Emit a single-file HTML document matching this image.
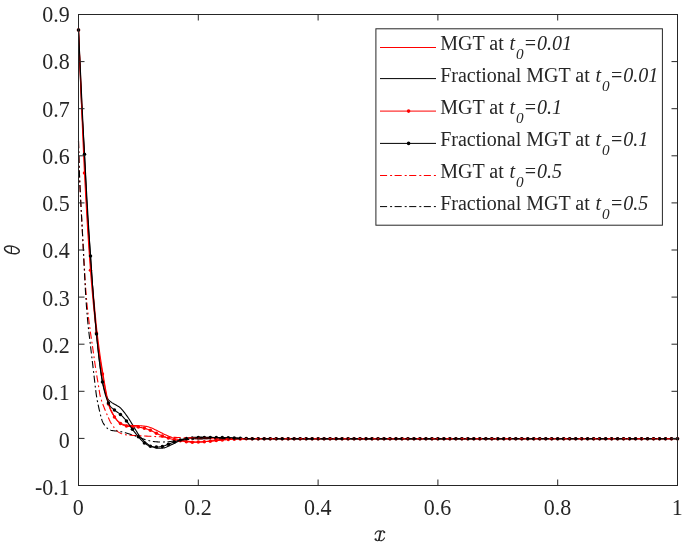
<!DOCTYPE html>
<html><head><meta charset="utf-8"><style>html,body{margin:0;padding:0;background:#fff;overflow:hidden}svg{display:block;will-change:transform}</style></head>
<body><svg width="685" height="545" viewBox="0 0 685 545">
<rect width="100%" height="100%" fill="#fff"/>
<g fill="none" stroke-width="1.1" stroke-linejoin="round">
<path d="M78.50 30.00 L79.02 41.78 L79.54 53.70 L80.07 65.62 L80.59 77.41 L81.10 88.91 L81.60 100.00 L82.08 110.58 L82.54 120.74 L82.99 130.62 L83.45 140.37 L83.91 150.12 L84.40 160.00 L84.91 170.17 L85.44 180.56 L85.99 190.94 L86.53 201.11 L87.07 210.87 L87.60 220.00 L88.11 228.48 L88.60 236.48 L89.09 244.06 L89.59 251.30 L90.08 258.25 L90.60 265.00 L91.14 271.47 L91.69 277.59 L92.26 283.44 L92.82 289.07 L93.37 294.57 L93.90 300.00 L94.40 305.35 L94.89 310.56 L95.36 315.62 L95.83 320.56 L96.30 325.35 L96.80 330.00 L97.32 334.56 L97.87 339.04 L98.42 343.38 L98.97 347.52 L99.50 351.41 L100.00 355.00 L100.46 358.23 L100.90 361.15 L101.33 363.81 L101.73 366.30 L102.12 368.67 L102.50 371.00 L102.86 373.24 L103.20 375.33 L103.53 377.31 L103.85 379.22 L104.17 381.10 L104.50 383.00 L104.83 384.89 L105.15 386.74 L105.47 388.56 L105.80 390.37 L106.14 392.18 L106.50 394.00 L106.88 395.88 L107.28 397.81 L107.69 399.75 L108.11 401.63 L108.55 403.40 L109.00 405.00 L109.47 406.41 L109.94 407.67 L110.44 408.81 L110.94 409.89 L111.47 410.94 L112.00 412.00 L112.55 413.08 L113.13 414.15 L113.72 415.19 L114.31 416.19 L114.91 417.13 L115.50 418.00 L116.07 418.80 L116.61 419.53 L117.16 420.21 L117.72 420.84 L118.33 421.44 L119.00 422.00 L119.73 422.54 L120.52 423.04 L121.34 423.50 L122.20 423.92 L123.09 424.29 L124.00 424.60 L124.93 424.84 L125.89 425.02 L126.88 425.15 L127.89 425.24 L128.93 425.32 L130.00 425.40 L131.11 425.46 L132.26 425.50 L133.44 425.52 L134.63 425.53 L135.82 425.56 L137.00 425.60 L138.18 425.66 L139.37 425.71 L140.56 425.78 L141.74 425.86 L142.89 425.97 L144.00 426.10 L145.05 426.25 L146.04 426.40 L147.00 426.58 L147.96 426.80 L148.95 427.06 L150.00 427.40 L151.10 427.82 L152.24 428.30 L153.40 428.84 L154.59 429.42 L155.79 430.01 L157.00 430.60 L158.21 431.20 L159.42 431.82 L160.65 432.46 L161.91 433.11 L163.22 433.76 L164.60 434.40 L166.08 435.05 L167.65 435.73 L169.27 436.40 L170.90 437.05 L172.49 437.66 L174.00 438.20 L175.41 438.67 L176.77 439.09 L178.09 439.47 L179.39 439.81 L180.68 440.12 L182.00 440.40 L183.33 440.65 L184.67 440.87 L186.00 441.06 L187.33 441.22 L188.67 441.36 L190.00 441.50 L191.33 441.63 L192.67 441.75 L194.00 441.85 L195.33 441.93 L196.67 441.98 L198.00 442.00 L199.32 441.98 L200.63 441.92 L201.94 441.84 L203.26 441.73 L204.61 441.62 L206.00 441.50 L207.43 441.37 L208.89 441.23 L210.38 441.08 L211.89 440.92 L213.43 440.76 L215.00 440.60 L216.61 440.43 L218.26 440.26 L219.94 440.08 L221.63 439.91 L223.32 439.74 L225.00 439.60 L226.61 439.47 L228.15 439.36 L229.69 439.25 L231.30 439.16 L233.04 439.07 L235.00 439.00 L232.44 438.94 L224.35 438.90 L216.41 438.86 L214.26 438.84 L223.57 438.82 L250.00 438.80 L297.38 438.79 L361.94 438.79 L437.97 438.79 L519.72 438.79 L601.48 438.80 L677.50 438.80" stroke="#ff0000"/>
<path d="M78.50 30.00 L78.96 41.85 L79.42 53.91 L79.88 65.98 L80.34 77.83 L80.81 89.24 L81.30 100.00 L81.82 109.94 L82.36 119.21 L82.91 128.04 L83.46 136.68 L83.99 145.35 L84.50 154.30 L84.97 163.62 L85.41 173.13 L85.84 182.68 L86.27 192.11 L86.72 201.27 L87.20 210.00 L87.72 218.24 L88.26 226.09 L88.83 233.68 L89.39 241.10 L89.95 248.47 L90.50 255.90 L91.03 263.47 L91.56 271.10 L92.07 278.69 L92.59 286.11 L93.10 293.25 L93.60 300.00 L94.09 306.33 L94.58 312.34 L95.06 318.06 L95.53 323.56 L96.01 328.89 L96.50 334.10 L96.99 339.20 L97.49 344.16 L97.99 348.94 L98.50 353.52 L99.00 357.88 L99.50 362.00 L99.99 365.86 L100.48 369.48 L100.97 372.87 L101.46 376.07 L101.97 379.07 L102.50 381.90 L103.07 384.58 L103.67 387.09 L104.29 389.41 L104.90 391.52 L105.48 393.39 L106.00 395.00 L106.44 396.26 L106.81 397.19 L107.14 397.87 L107.48 398.42 L107.86 398.93 L108.30 399.50 L108.82 400.10 L109.38 400.66 L109.98 401.18 L110.61 401.66 L111.25 402.13 L111.90 402.60 L112.57 403.05 L113.28 403.49 L114.00 403.91 L114.72 404.31 L115.43 404.71 L116.10 405.10 L116.74 405.48 L117.37 405.83 L117.99 406.18 L118.58 406.53 L119.15 406.90 L119.70 407.30 L120.20 407.72 L120.66 408.15 L121.10 408.60 L121.54 409.08 L122.00 409.61 L122.50 410.20 L123.06 410.87 L123.65 411.60 L124.27 412.38 L124.89 413.19 L125.51 414.00 L126.10 414.80 L126.67 415.58 L127.23 416.37 L127.77 417.16 L128.32 417.96 L128.86 418.77 L129.40 419.60 L129.94 420.45 L130.47 421.33 L131.01 422.22 L131.54 423.11 L132.07 424.01 L132.60 424.90 L133.13 425.79 L133.67 426.68 L134.20 427.57 L134.73 428.46 L135.27 429.33 L135.80 430.20 L136.33 431.06 L136.86 431.91 L137.38 432.76 L137.91 433.60 L138.45 434.41 L139.00 435.20 L139.57 435.97 L140.14 436.72 L140.73 437.46 L141.32 438.17 L141.91 438.85 L142.50 439.50 L143.08 440.11 L143.65 440.69 L144.22 441.24 L144.80 441.77 L145.39 442.29 L146.00 442.80 L146.63 443.30 L147.26 443.80 L147.91 444.28 L148.57 444.74 L149.27 445.19 L150.00 445.60 L150.78 445.99 L151.59 446.37 L152.44 446.73 L153.30 447.06 L154.16 447.35 L155.00 447.60 L155.83 447.81 L156.67 447.98 L157.50 448.12 L158.33 448.22 L159.17 448.28 L160.00 448.30 L160.81 448.29 L161.59 448.26 L162.38 448.19 L163.19 448.06 L164.05 447.87 L165.00 447.60 L166.04 447.23 L167.15 446.77 L168.31 446.25 L169.52 445.68 L170.75 445.09 L172.00 444.50 L173.28 443.88 L174.59 443.20 L175.94 442.51 L177.30 441.82 L178.66 441.17 L180.00 440.60 L181.33 440.10 L182.67 439.63 L184.00 439.21 L185.33 438.83 L186.67 438.50 L188.00 438.20 L189.32 437.95 L190.63 437.76 L191.94 437.61 L193.26 437.49 L194.61 437.39 L196.00 437.30 L197.37 437.23 L198.70 437.19 L200.06 437.17 L201.52 437.17 L203.14 437.18 L205.00 437.20 L207.09 437.24 L209.37 437.29 L211.81 437.36 L214.41 437.43 L217.14 437.52 L220.00 437.60 L223.04 437.69 L226.30 437.79 L229.69 437.89 L233.15 437.99 L236.61 438.10 L240.00 438.20 L238.73 438.31 L231.94 438.42 L225.16 438.54 L223.89 438.64 L233.66 438.73 L260.00 438.80 L306.58 438.83 L369.72 438.84 L443.91 438.84 L523.61 438.82 L603.32 438.81 L677.50 438.80" stroke="#000000"/>
<path d="M78.50 30.00 L79.50 54.36 L80.50 79.36 L81.50 104.36 L82.49 128.73 L83.49 151.82 L84.49 173.00 L85.49 192.25 L86.49 210.07 L87.48 226.61 L88.48 242.04 L89.48 256.52 L90.48 270.20 L91.48 282.91 L92.48 294.49 L93.47 305.11 L94.47 314.96 L95.47 324.19 L96.47 333.00 L97.47 341.22 L98.47 348.69 L99.47 355.55 L100.46 361.96 L101.46 368.06 L102.46 374.00 L103.46 379.83 L104.46 385.45 L105.46 390.76 L106.45 395.67 L107.45 400.12 L108.45 404.00 L109.45 407.21 L110.45 409.80 L111.44 411.91 L112.44 413.69 L113.44 415.31 L114.44 416.90 L115.44 418.43 L116.44 419.75 L117.44 420.91 L118.43 421.91 L119.43 422.80 L120.43 423.60 L121.43 424.27 L122.43 424.79 L123.42 425.18 L124.42 425.49 L125.42 425.75 L126.42 426.00 L127.42 426.21 L128.42 426.34 L129.41 426.42 L130.41 426.47 L131.41 426.53 L132.41 426.60 L133.41 426.68 L134.41 426.75 L135.41 426.81 L136.40 426.89 L137.40 426.98 L138.40 427.10 L139.40 427.25 L140.40 427.42 L141.40 427.61 L142.39 427.81 L143.39 428.05 L144.39 428.30 L145.39 428.58 L146.39 428.87 L147.38 429.19 L148.38 429.54 L149.38 429.91 L150.38 430.30 L151.38 430.73 L152.38 431.20 L153.38 431.70 L154.37 432.21 L155.37 432.71 L156.37 433.20 L157.37 433.68 L158.37 434.17 L159.37 434.65 L160.36 435.12 L161.36 435.57 L162.36 436.00 L163.36 436.40 L164.36 436.77 L165.36 437.13 L166.35 437.46 L167.35 437.79 L168.35 438.10 L169.35 438.40 L170.35 438.69 L171.34 438.96 L172.34 439.22 L173.34 439.47 L174.34 439.70 L175.34 439.91 L176.34 440.11 L177.34 440.29 L178.33 440.47 L179.33 440.63 L180.33 440.80 L181.33 440.97 L182.33 441.13 L183.33 441.29 L184.32 441.44 L185.32 441.58 L186.32 441.70 L187.32 441.81 L188.32 441.92 L189.32 442.01 L190.31 442.09 L191.31 442.16 L192.31 442.20 L193.31 442.22 L194.31 442.22 L195.31 442.21 L196.30 442.18 L197.30 442.14 L198.30 442.10 L199.30 442.05 L200.30 441.99 L201.30 441.93 L202.29 441.85 L203.29 441.78 L204.29 441.70 L205.29 441.62 L206.29 441.54 L207.28 441.46 L208.28 441.38 L209.28 441.29 L210.28 441.20 L211.28 441.11 L212.28 441.01 L213.27 440.91 L214.27 440.80 L215.27 440.70 L216.27 440.60 L217.27 440.50 L218.27 440.40 L219.26 440.29 L220.26 440.19 L221.26 440.09 L222.26 440.00 L223.26 439.91 L224.26 439.82 L225.25 439.73 L226.25 439.65 L227.25 439.57 L228.25 439.50 L229.25 439.44 L230.25 439.38 L231.25 439.33 L232.24 439.29 L233.24 439.24 L234.24 439.20 L235.24 439.15 L236.24 439.11 L237.24 439.06 L238.23 439.02 L239.23 438.98 L240.23 438.95 L241.23 438.92 L242.23 438.90 L243.23 438.89 L244.22 438.87 L245.22 438.86 L246.22 438.85 L247.22 438.84 L248.22 438.83 L249.22 438.82 L250.21 438.81 L251.21 438.81 L252.21 438.80" stroke="#ff0000"/>
</g>
<g fill="#ff0000"><circle cx="78.50" cy="30.00" r="1.75"/><circle cx="84.49" cy="173.00" r="1.75"/><circle cx="90.48" cy="270.20" r="1.75"/><circle cx="96.47" cy="333.00" r="1.75"/><circle cx="102.46" cy="374.00" r="1.75"/><circle cx="108.45" cy="404.00" r="1.75"/><circle cx="114.44" cy="416.90" r="1.75"/><circle cx="120.43" cy="423.60" r="1.75"/><circle cx="126.42" cy="426.00" r="1.75"/><circle cx="132.41" cy="426.60" r="1.75"/><circle cx="138.40" cy="427.10" r="1.75"/><circle cx="144.39" cy="428.30" r="1.75"/><circle cx="150.38" cy="430.30" r="1.75"/><circle cx="156.37" cy="433.20" r="1.75"/><circle cx="162.36" cy="436.00" r="1.75"/><circle cx="168.35" cy="438.10" r="1.75"/><circle cx="174.34" cy="439.70" r="1.75"/><circle cx="180.33" cy="440.80" r="1.75"/><circle cx="186.32" cy="441.70" r="1.75"/><circle cx="192.31" cy="442.20" r="1.75"/><circle cx="198.30" cy="442.10" r="1.75"/><circle cx="204.29" cy="441.70" r="1.75"/><circle cx="210.28" cy="441.20" r="1.75"/><circle cx="216.27" cy="440.60" r="1.75"/><circle cx="222.26" cy="440.00" r="1.75"/><circle cx="228.25" cy="439.50" r="1.75"/><circle cx="234.24" cy="439.20" r="1.75"/><circle cx="240.23" cy="438.95" r="1.75"/><circle cx="246.22" cy="438.85" r="1.75"/><circle cx="252.21" cy="438.80" r="1.75"/><circle cx="258.20" cy="438.80" r="1.75"/><circle cx="264.19" cy="438.80" r="1.75"/><circle cx="270.18" cy="438.80" r="1.75"/><circle cx="276.17" cy="438.80" r="1.75"/><circle cx="282.16" cy="438.80" r="1.75"/><circle cx="288.15" cy="438.80" r="1.75"/><circle cx="294.14" cy="438.80" r="1.75"/><circle cx="300.13" cy="438.80" r="1.75"/><circle cx="306.12" cy="438.80" r="1.75"/><circle cx="312.11" cy="438.80" r="1.75"/><circle cx="318.10" cy="438.80" r="1.75"/><circle cx="324.09" cy="438.80" r="1.75"/><circle cx="330.08" cy="438.80" r="1.75"/><circle cx="336.07" cy="438.80" r="1.75"/><circle cx="342.06" cy="438.80" r="1.75"/><circle cx="348.05" cy="438.80" r="1.75"/><circle cx="354.04" cy="438.80" r="1.75"/><circle cx="360.03" cy="438.80" r="1.75"/><circle cx="366.02" cy="438.80" r="1.75"/><circle cx="372.01" cy="438.80" r="1.75"/><circle cx="378.00" cy="438.80" r="1.75"/><circle cx="383.99" cy="438.80" r="1.75"/><circle cx="389.98" cy="438.80" r="1.75"/><circle cx="395.97" cy="438.80" r="1.75"/><circle cx="401.96" cy="438.80" r="1.75"/><circle cx="407.95" cy="438.80" r="1.75"/><circle cx="413.94" cy="438.80" r="1.75"/><circle cx="419.93" cy="438.80" r="1.75"/><circle cx="425.92" cy="438.80" r="1.75"/><circle cx="431.91" cy="438.80" r="1.75"/><circle cx="437.90" cy="438.80" r="1.75"/><circle cx="443.89" cy="438.80" r="1.75"/><circle cx="449.88" cy="438.80" r="1.75"/><circle cx="455.87" cy="438.80" r="1.75"/><circle cx="461.86" cy="438.80" r="1.75"/><circle cx="467.85" cy="438.80" r="1.75"/><circle cx="473.84" cy="438.80" r="1.75"/><circle cx="479.83" cy="438.80" r="1.75"/><circle cx="485.82" cy="438.80" r="1.75"/><circle cx="491.81" cy="438.80" r="1.75"/><circle cx="497.80" cy="438.80" r="1.75"/><circle cx="503.79" cy="438.80" r="1.75"/><circle cx="509.78" cy="438.80" r="1.75"/><circle cx="515.77" cy="438.80" r="1.75"/><circle cx="521.76" cy="438.80" r="1.75"/><circle cx="527.75" cy="438.80" r="1.75"/><circle cx="533.74" cy="438.80" r="1.75"/><circle cx="539.73" cy="438.80" r="1.75"/><circle cx="545.72" cy="438.80" r="1.75"/><circle cx="551.71" cy="438.80" r="1.75"/><circle cx="557.70" cy="438.80" r="1.75"/><circle cx="563.69" cy="438.80" r="1.75"/><circle cx="569.68" cy="438.80" r="1.75"/><circle cx="575.67" cy="438.80" r="1.75"/><circle cx="581.66" cy="438.80" r="1.75"/><circle cx="587.65" cy="438.80" r="1.75"/><circle cx="593.64" cy="438.80" r="1.75"/><circle cx="599.63" cy="438.80" r="1.75"/><circle cx="605.62" cy="438.80" r="1.75"/><circle cx="611.61" cy="438.80" r="1.75"/><circle cx="617.60" cy="438.80" r="1.75"/><circle cx="623.59" cy="438.80" r="1.75"/><circle cx="629.58" cy="438.80" r="1.75"/><circle cx="635.57" cy="438.80" r="1.75"/><circle cx="641.56" cy="438.80" r="1.75"/><circle cx="647.55" cy="438.80" r="1.75"/><circle cx="653.54" cy="438.80" r="1.75"/><circle cx="659.53" cy="438.80" r="1.75"/><circle cx="665.52" cy="438.80" r="1.75"/><circle cx="671.51" cy="438.80" r="1.75"/><circle cx="677.50" cy="438.80" r="1.75"/></g>
<path d="M78.50 30.00 L79.50 50.98 L80.50 72.27 L81.50 93.57 L82.49 114.55 L83.49 134.90 L84.49 154.30 L85.49 172.82 L86.49 190.71 L87.48 207.98 L88.48 224.61 L89.48 240.58 L90.48 255.90 L91.48 270.64 L92.48 284.83 L93.47 298.36 L94.47 311.15 L95.47 323.10 L96.47 334.10 L97.47 344.13 L98.47 353.27 L99.47 361.56 L100.46 369.06 L101.46 375.82 L102.46 381.90 L103.46 387.14 L104.46 391.47 L105.46 395.06 L106.45 398.08 L107.45 400.70 L108.45 403.10 L109.45 405.11 L110.45 406.55 L111.44 407.60 L112.44 408.41 L113.44 409.16 L114.44 410.00 L115.44 410.85 L116.44 411.57 L117.44 412.23 L118.43 412.87 L119.43 413.57 L120.43 414.40 L121.43 415.34 L122.43 416.34 L123.42 417.40 L124.42 418.51 L125.42 419.68 L126.42 420.90 L127.42 422.20 L128.42 423.59 L129.41 425.04 L130.41 426.50 L131.41 427.93 L132.41 429.30 L133.41 430.62 L134.41 431.92 L135.41 433.19 L136.40 434.44 L137.40 435.64 L138.40 436.80 L139.40 437.93 L140.40 439.04 L141.40 440.11 L142.39 441.12 L143.39 442.06 L144.39 442.90 L145.39 443.65 L146.39 444.33 L147.38 444.94 L148.38 445.47 L149.38 445.92 L150.38 446.30 L151.38 446.59 L152.38 446.78 L153.38 446.90 L154.37 446.96 L155.37 446.99 L156.37 447.00 L157.37 446.99 L158.37 446.95 L159.37 446.87 L160.36 446.76 L161.36 446.60 L162.36 446.40 L163.36 446.14 L164.36 445.82 L165.36 445.46 L166.35 445.08 L167.35 444.68 L168.35 444.30 L169.35 443.91 L170.35 443.50 L171.34 443.09 L172.34 442.67 L173.34 442.27 L174.34 441.90 L175.34 441.55 L176.34 441.22 L177.34 440.90 L178.33 440.59 L179.33 440.29 L180.33 440.00 L181.33 439.70 L182.33 439.40 L183.33 439.11 L184.32 438.84 L185.32 438.60 L186.32 438.40 L187.32 438.25 L188.32 438.14 L189.32 438.07 L190.31 438.01 L191.31 437.96 L192.31 437.90 L193.31 437.84 L194.31 437.78 L195.31 437.73 L196.30 437.68 L197.30 437.64 L198.30 437.60 L199.30 437.57 L200.30 437.55 L201.30 437.53 L202.29 437.52 L203.29 437.51 L204.29 437.50 L205.29 437.49 L206.29 437.49 L207.28 437.49 L208.28 437.50 L209.28 437.50 L210.28 437.50 L211.28 437.50 L212.28 437.50 L213.27 437.49 L214.27 437.49 L215.27 437.49 L216.27 437.50 L217.27 437.51 L218.27 437.52 L219.26 437.54 L220.26 437.56 L221.26 437.58 L222.26 437.60 L223.26 437.63 L224.26 437.66 L225.25 437.69 L226.25 437.73 L227.25 437.77 L228.25 437.80 L229.25 437.83 L230.25 437.86 L231.25 437.89 L232.24 437.93 L233.24 437.96 L234.24 438.00 L235.24 438.04 L236.24 438.09 L237.24 438.14 L238.23 438.20 L239.23 438.25 L240.23 438.30 L241.23 438.35 L242.23 438.40 L243.23 438.46 L244.22 438.51 L245.22 438.56 L246.22 438.60 L247.22 438.64 L248.22 438.67 L249.22 438.71 L250.21 438.74 L251.21 438.77 L252.21 438.80 L677.5 438.80" stroke="#000000" fill="none" stroke-width="1.1"/>
<g fill="#000000"><circle cx="78.50" cy="30.00" r="1.75"/><circle cx="84.49" cy="154.30" r="1.75"/><circle cx="90.48" cy="255.90" r="1.75"/><circle cx="96.47" cy="334.10" r="1.75"/><circle cx="102.46" cy="381.90" r="1.75"/><circle cx="108.45" cy="403.10" r="1.75"/><circle cx="114.44" cy="410.00" r="1.75"/><circle cx="120.43" cy="414.40" r="1.75"/><circle cx="126.42" cy="420.90" r="1.75"/><circle cx="132.41" cy="429.30" r="1.75"/><circle cx="138.40" cy="436.80" r="1.75"/><circle cx="144.39" cy="442.90" r="1.75"/><circle cx="150.38" cy="446.30" r="1.75"/><circle cx="156.37" cy="447.00" r="1.75"/><circle cx="162.36" cy="446.40" r="1.75"/><circle cx="168.35" cy="444.30" r="1.75"/><circle cx="174.34" cy="441.90" r="1.75"/><circle cx="180.33" cy="440.00" r="1.75"/><circle cx="186.32" cy="438.40" r="1.75"/><circle cx="192.31" cy="437.90" r="1.75"/><circle cx="198.30" cy="437.60" r="1.75"/><circle cx="204.29" cy="437.50" r="1.75"/><circle cx="210.28" cy="437.50" r="1.75"/><circle cx="216.27" cy="437.50" r="1.75"/><circle cx="222.26" cy="437.60" r="1.75"/><circle cx="228.25" cy="437.80" r="1.75"/><circle cx="234.24" cy="438.00" r="1.75"/><circle cx="240.23" cy="438.30" r="1.75"/><circle cx="246.22" cy="438.60" r="1.75"/><circle cx="252.21" cy="438.80" r="1.75"/><circle cx="258.20" cy="438.80" r="1.75"/><circle cx="264.19" cy="438.80" r="1.75"/><circle cx="270.18" cy="438.80" r="1.75"/><circle cx="276.17" cy="438.80" r="1.75"/><circle cx="282.16" cy="438.80" r="1.75"/><circle cx="288.15" cy="438.80" r="1.75"/><circle cx="294.14" cy="438.80" r="1.75"/><circle cx="300.13" cy="438.80" r="1.75"/><circle cx="306.12" cy="438.80" r="1.75"/><circle cx="312.11" cy="438.80" r="1.75"/><circle cx="318.10" cy="438.80" r="1.75"/><circle cx="324.09" cy="438.80" r="1.75"/><circle cx="330.08" cy="438.80" r="1.75"/><circle cx="336.07" cy="438.80" r="1.75"/><circle cx="342.06" cy="438.80" r="1.75"/><circle cx="348.05" cy="438.80" r="1.75"/><circle cx="354.04" cy="438.80" r="1.75"/><circle cx="360.03" cy="438.80" r="1.75"/><circle cx="366.02" cy="438.80" r="1.75"/><circle cx="372.01" cy="438.80" r="1.75"/><circle cx="378.00" cy="438.80" r="1.75"/><circle cx="383.99" cy="438.80" r="1.75"/><circle cx="389.98" cy="438.80" r="1.75"/><circle cx="395.97" cy="438.80" r="1.75"/><circle cx="401.96" cy="438.80" r="1.75"/><circle cx="407.95" cy="438.80" r="1.75"/><circle cx="413.94" cy="438.80" r="1.75"/><circle cx="419.93" cy="438.80" r="1.75"/><circle cx="425.92" cy="438.80" r="1.75"/><circle cx="431.91" cy="438.80" r="1.75"/><circle cx="437.90" cy="438.80" r="1.75"/><circle cx="443.89" cy="438.80" r="1.75"/><circle cx="449.88" cy="438.80" r="1.75"/><circle cx="455.87" cy="438.80" r="1.75"/><circle cx="461.86" cy="438.80" r="1.75"/><circle cx="467.85" cy="438.80" r="1.75"/><circle cx="473.84" cy="438.80" r="1.75"/><circle cx="479.83" cy="438.80" r="1.75"/><circle cx="485.82" cy="438.80" r="1.75"/><circle cx="491.81" cy="438.80" r="1.75"/><circle cx="497.80" cy="438.80" r="1.75"/><circle cx="503.79" cy="438.80" r="1.75"/><circle cx="509.78" cy="438.80" r="1.75"/><circle cx="515.77" cy="438.80" r="1.75"/><circle cx="521.76" cy="438.80" r="1.75"/><circle cx="527.75" cy="438.80" r="1.75"/><circle cx="533.74" cy="438.80" r="1.75"/><circle cx="539.73" cy="438.80" r="1.75"/><circle cx="545.72" cy="438.80" r="1.75"/><circle cx="551.71" cy="438.80" r="1.75"/><circle cx="557.70" cy="438.80" r="1.75"/><circle cx="563.69" cy="438.80" r="1.75"/><circle cx="569.68" cy="438.80" r="1.75"/><circle cx="575.67" cy="438.80" r="1.75"/><circle cx="581.66" cy="438.80" r="1.75"/><circle cx="587.65" cy="438.80" r="1.75"/><circle cx="593.64" cy="438.80" r="1.75"/><circle cx="599.63" cy="438.80" r="1.75"/><circle cx="605.62" cy="438.80" r="1.75"/><circle cx="611.61" cy="438.80" r="1.75"/><circle cx="617.60" cy="438.80" r="1.75"/><circle cx="623.59" cy="438.80" r="1.75"/><circle cx="629.58" cy="438.80" r="1.75"/><circle cx="635.57" cy="438.80" r="1.75"/><circle cx="641.56" cy="438.80" r="1.75"/><circle cx="647.55" cy="438.80" r="1.75"/><circle cx="653.54" cy="438.80" r="1.75"/><circle cx="659.53" cy="438.80" r="1.75"/><circle cx="665.52" cy="438.80" r="1.75"/><circle cx="671.51" cy="438.80" r="1.75"/><circle cx="677.50" cy="438.80" r="1.75"/></g>
<path d="M78.50 141.00 L78.63 145.88 L78.76 150.81 L78.88 155.75 L79.01 160.63 L79.15 165.40 L79.30 170.00 L79.46 174.28 L79.61 178.26 L79.78 182.12 L79.96 186.07 L80.17 190.30 L80.40 195.00 L80.65 199.97 L80.91 205.00 L81.20 210.31 L81.52 216.11 L81.88 222.60 L82.30 230.00 L82.80 238.90 L83.37 249.26 L83.98 260.31 L84.61 271.30 L85.23 281.45 L85.80 290.00 L86.32 296.79 L86.82 302.41 L87.30 307.19 L87.78 311.48 L88.28 315.64 L88.80 320.00 L89.35 324.46 L89.93 328.70 L90.51 332.81 L91.11 336.85 L91.71 340.89 L92.30 345.00 L92.91 349.29 L93.54 353.74 L94.17 358.19 L94.79 362.48 L95.37 366.47 L95.90 370.00 L96.36 372.99 L96.77 375.56 L97.15 377.81 L97.50 379.89 L97.85 381.91 L98.20 384.00 L98.55 386.17 L98.88 388.33 L99.21 390.44 L99.53 392.44 L99.86 394.31 L100.20 396.00 L100.55 397.46 L100.91 398.72 L101.27 399.84 L101.64 400.89 L102.01 401.92 L102.40 403.00 L102.80 404.12 L103.21 405.22 L103.63 406.31 L104.06 407.39 L104.48 408.45 L104.90 409.50 L105.31 410.53 L105.73 411.54 L106.14 412.54 L106.55 413.53 L106.97 414.51 L107.40 415.50 L107.84 416.51 L108.30 417.55 L108.76 418.59 L109.21 419.59 L109.67 420.54 L110.10 421.40 L110.52 422.16 L110.93 422.85 L111.33 423.47 L111.73 424.06 L112.12 424.63 L112.50 425.20 L112.87 425.76 L113.23 426.29 L113.59 426.81 L113.94 427.31 L114.31 427.80 L114.70 428.30 L115.10 428.80 L115.50 429.31 L115.91 429.81 L116.34 430.29 L116.80 430.76 L117.30 431.20 L117.84 431.62 L118.42 432.02 L119.03 432.40 L119.67 432.76 L120.32 433.09 L121.00 433.40 L121.69 433.68 L122.40 433.93 L123.14 434.15 L123.90 434.35 L124.68 434.53 L125.50 434.70 L126.32 434.84 L127.13 434.96 L127.97 435.05 L128.87 435.13 L129.87 435.21 L131.00 435.30 L132.29 435.39 L133.70 435.47 L135.22 435.56 L136.80 435.64 L138.40 435.72 L140.00 435.80 L141.61 435.88 L143.26 435.97 L144.94 436.05 L146.63 436.13 L148.32 436.22 L150.00 436.30 L151.61 436.38 L153.15 436.46 L154.69 436.54 L156.30 436.63 L158.04 436.71 L160.00 436.80 L162.21 436.90 L164.63 437.00 L167.19 437.10 L169.81 437.20 L172.44 437.30 L175.00 437.40 L177.44 437.49 L179.81 437.57 L182.19 437.65 L184.63 437.73 L187.21 437.81 L190.00 437.90 L193.04 438.00 L196.30 438.10 L199.69 438.21 L203.15 438.32 L206.61 438.42 L210.00 438.50 L208.39 438.57 L200.83 438.63 L193.28 438.69 L191.67 438.73 L201.93 438.77 L230.00 438.80 L279.84 438.82 L347.50 438.82 L427.03 438.82 L512.50 438.81 L597.97 438.80 L677.50 438.80" stroke="#ff0000" fill="none" stroke-width="1.1" stroke-dasharray="7.2 3 1.8 2.7"/>
<path d="M78.50 141.00 L78.63 145.88 L78.76 150.81 L78.88 155.75 L79.01 160.63 L79.15 165.40 L79.30 170.00 L79.46 174.28 L79.61 178.26 L79.78 182.12 L79.96 186.07 L80.17 190.30 L80.40 195.00 L80.66 199.97 L80.93 205.00 L81.23 210.31 L81.55 216.11 L81.90 222.60 L82.30 230.00 L82.76 238.90 L83.28 249.26 L83.83 260.31 L84.39 271.30 L84.92 281.45 L85.40 290.00 L85.81 296.79 L86.18 302.41 L86.52 307.19 L86.86 311.48 L87.21 315.64 L87.60 320.00 L88.03 324.43 L88.47 328.63 L88.94 332.69 L89.41 336.70 L89.90 340.78 L90.40 345.00 L90.93 349.53 L91.50 354.33 L92.08 359.19 L92.64 363.89 L93.15 368.23 L93.60 372.00 L93.96 375.13 L94.26 377.78 L94.52 380.06 L94.75 382.11 L94.97 384.05 L95.20 386.00 L95.43 387.93 L95.66 389.74 L95.87 391.44 L96.08 393.04 L96.29 394.55 L96.50 396.00 L96.71 397.34 L96.93 398.56 L97.14 399.69 L97.35 400.78 L97.57 401.87 L97.80 403.00 L98.04 404.17 L98.28 405.33 L98.53 406.50 L98.78 407.67 L99.04 408.83 L99.30 410.00 L99.57 411.19 L99.86 412.41 L100.14 413.64 L100.43 414.83 L100.72 415.96 L101.00 417.00 L101.27 417.94 L101.53 418.81 L101.78 419.62 L102.04 420.39 L102.31 421.11 L102.60 421.80 L102.90 422.45 L103.21 423.05 L103.54 423.61 L103.87 424.15 L104.23 424.67 L104.60 425.20 L104.99 425.74 L105.40 426.27 L105.83 426.79 L106.27 427.30 L106.73 427.77 L107.20 428.20 L107.68 428.59 L108.17 428.96 L108.68 429.29 L109.20 429.60 L109.74 429.87 L110.30 430.10 L110.88 430.29 L111.48 430.43 L112.09 430.54 L112.72 430.63 L113.36 430.71 L114.00 430.80 L114.65 430.88 L115.31 430.94 L115.98 431.00 L116.66 431.06 L117.33 431.12 L118.00 431.20 L118.66 431.29 L119.30 431.39 L119.94 431.49 L120.59 431.61 L121.28 431.75 L122.00 431.90 L122.78 432.08 L123.59 432.28 L124.44 432.49 L125.30 432.72 L126.16 432.96 L127.00 433.20 L127.82 433.44 L128.63 433.69 L129.44 433.95 L130.26 434.22 L131.11 434.50 L132.00 434.80 L132.93 435.12 L133.89 435.44 L134.88 435.79 L135.89 436.14 L136.93 436.52 L138.00 436.90 L139.11 437.31 L140.26 437.76 L141.44 438.22 L142.63 438.67 L143.82 439.11 L145.00 439.50 L146.16 439.86 L147.30 440.20 L148.44 440.52 L149.59 440.81 L150.78 441.07 L152.00 441.30 L153.28 441.49 L154.59 441.65 L155.94 441.78 L157.30 441.88 L158.66 441.95 L160.00 442.00 L161.33 442.01 L162.67 442.00 L164.00 441.95 L165.33 441.88 L166.67 441.80 L168.00 441.70 L169.32 441.59 L170.63 441.45 L171.94 441.29 L173.26 441.13 L174.61 440.96 L176.00 440.80 L177.43 440.64 L178.89 440.46 L180.38 440.29 L181.89 440.11 L183.43 439.95 L185.00 439.80 L186.55 439.66 L188.07 439.53 L189.62 439.41 L191.26 439.30 L193.03 439.20 L195.00 439.10 L197.15 439.01 L199.44 438.93 L201.88 438.85 L204.44 438.79 L207.15 438.73 L210.00 438.70 L208.10 438.69 L200.46 438.70 L192.97 438.72 L191.48 438.76 L201.87 438.78 L230.00 438.80 L279.84 438.81 L347.50 438.81 L427.03 438.81 L512.50 438.80 L597.97 438.80 L677.50 438.80" stroke="#000000" fill="none" stroke-width="1.1" stroke-dasharray="7.2 3 1.8 2.7"/>
<rect x="78.5" y="14.5" width="599.0" height="471.0" fill="none" stroke="#262626" stroke-width="1"/>
<path d="M78.5 485.5h6M677.5 485.5h-6M78.5 438.4h6M677.5 438.4h-6M78.5 391.3h6M677.5 391.3h-6M78.5 344.2h6M677.5 344.2h-6M78.5 297.1h6M677.5 297.1h-6M78.5 250.0h6M677.5 250.0h-6M78.5 202.9h6M677.5 202.9h-6M78.5 155.8h6M677.5 155.8h-6M78.5 108.7h6M677.5 108.7h-6M78.5 61.6h6M677.5 61.6h-6M78.5 14.5h6M677.5 14.5h-6M78.5 485.5v-6M78.5 14.5v6M198.3 485.5v-6M198.3 14.5v6M318.1 485.5v-6M318.1 14.5v6M437.90000000000003 485.5v-6M437.90000000000003 14.5v6M557.7 485.5v-6M557.7 14.5v6M677.5 485.5v-6M677.5 14.5v6" stroke="#262626" stroke-width="1" fill="none"/>
<g font-family="Liberation Serif" font-size="22" fill="#262626">
<text transform="translate(69.8 494.80) scale(1 1.05)" text-anchor="end">-0.1</text>
<text transform="translate(69.8 447.90) scale(1 1.05)" text-anchor="end">0</text>
<text transform="translate(69.8 400.00) scale(1 1.05)" text-anchor="end">0.1</text>
<text transform="translate(69.8 353.10) scale(1 1.05)" text-anchor="end">0.2</text>
<text transform="translate(69.8 306.10) scale(1 1.05)" text-anchor="end">0.3</text>
<text transform="translate(69.8 258.40) scale(1 1.05)" text-anchor="end">0.4</text>
<text transform="translate(69.8 211.30) scale(1 1.05)" text-anchor="end">0.5</text>
<text transform="translate(69.8 164.20) scale(1 1.05)" text-anchor="end">0.6</text>
<text transform="translate(69.8 117.10) scale(1 1.05)" text-anchor="end">0.7</text>
<text transform="translate(69.8 69.10) scale(1 1.05)" text-anchor="end">0.8</text>
<text transform="translate(69.8 21.90) scale(1 1.05)" text-anchor="end">0.9</text>
<text transform="translate(78.20 514.8) scale(1 1.05)" text-anchor="middle">0</text>
<text transform="translate(198.00 514.8) scale(1 1.05)" text-anchor="middle">0.2</text>
<text transform="translate(317.80 514.8) scale(1 1.05)" text-anchor="middle">0.4</text>
<text transform="translate(437.60 514.8) scale(1 1.05)" text-anchor="middle">0.6</text>
<text transform="translate(557.40 514.8) scale(1 1.05)" text-anchor="middle">0.8</text>
<text transform="translate(677.20 514.8) scale(1 1.05)" text-anchor="middle">1</text>
</g>
<g fill="none" stroke="#262626" stroke-linecap="round"><path d="M375.1 534.1C375.9 531.4 378.6 529.9 380.4 531.6" stroke-width="1.1"/><path d="M380.7 531.4L378.9 540.1" stroke-width="1.7"/><path d="M375.5 539.6C376.2 541.1 378.4 541 379.1 539.9" stroke-width="1.1"/><path d="M384.1 531.8C383.5 530.3 381.6 530.4 380.8 531.9" stroke-width="1.1"/><path d="M379.3 539.9C380 541.3 382.7 541.1 384.5 537.9" stroke-width="1.1"/></g><circle cx="375.6" cy="539.3" r="1.15" fill="#262626"/><circle cx="384.3" cy="532.3" r="1.05" fill="#262626"/>
<ellipse cx="11.9" cy="249.9" rx="7.6" ry="3.6" transform="rotate(13 11.9 249.9)" fill="none" stroke="#262626" stroke-width="1.45"/><path d="M11.4 246.3V253.5" stroke="#262626" stroke-width="1.2"/>
<rect x="375.9" y="28.8" width="286.5" height="196.39999999999998" fill="#fff" stroke="#262626" stroke-width="1"/>
<path d="M380 47.5H436" stroke="#ff0000" stroke-width="1"/>
<text x="440.2" y="50" font-family="Liberation Serif" font-size="20" fill="#262626">MGT at <tspan font-style="italic" dx="0.8">t</tspan><tspan font-style="italic" font-size="15.2" dx="0.8" dy="8.5">0</tspan><tspan font-style="italic" dx="0.1" dy="-8.5">=0.01</tspan></text>
<path d="M380 78.6H436" stroke="#000" stroke-width="1"/>
<text x="440.2" y="82" font-family="Liberation Serif" font-size="20" fill="#262626">Fractional MGT at <tspan font-style="italic" dx="0.8">t</tspan><tspan font-style="italic" font-size="15.2" dx="0.8" dy="8.5">0</tspan><tspan font-style="italic" dx="0.1" dy="-8.5">=0.01</tspan></text>
<path d="M380 111.1H436" stroke="#ff0000" stroke-width="1"/>
<circle cx="408.6" cy="111.1" r="1.8" fill="#ff0000"/>
<text x="440.2" y="114" font-family="Liberation Serif" font-size="20" fill="#262626">MGT at <tspan font-style="italic" dx="0.8">t</tspan><tspan font-style="italic" font-size="15.2" dx="0.8" dy="8.5">0</tspan><tspan font-style="italic" dx="0.1" dy="-8.5">=0.1</tspan></text>
<path d="M380 143.4H436" stroke="#000" stroke-width="1"/>
<circle cx="408.6" cy="143.4" r="1.8" fill="#000"/>
<text x="440.2" y="146" font-family="Liberation Serif" font-size="20" fill="#262626">Fractional MGT at <tspan font-style="italic" dx="0.8">t</tspan><tspan font-style="italic" font-size="15.2" dx="0.8" dy="8.5">0</tspan><tspan font-style="italic" dx="0.1" dy="-8.5">=0.1</tspan></text>
<path d="M380 175.5H436" stroke="#ff0000" stroke-width="1" stroke-dasharray="7.1 3 2 2.5"/>
<text x="440.2" y="178" font-family="Liberation Serif" font-size="20" fill="#262626">MGT at <tspan font-style="italic" dx="0.8">t</tspan><tspan font-style="italic" font-size="15.2" dx="0.8" dy="8.5">0</tspan><tspan font-style="italic" dx="0.1" dy="-8.5">=0.5</tspan></text>
<path d="M380 206.6H436" stroke="#000" stroke-width="1" stroke-dasharray="7.1 3 2 2.5"/>
<text x="440.2" y="210" font-family="Liberation Serif" font-size="20" fill="#262626">Fractional MGT at <tspan font-style="italic" dx="0.8">t</tspan><tspan font-style="italic" font-size="15.2" dx="0.8" dy="8.5">0</tspan><tspan font-style="italic" dx="0.1" dy="-8.5">=0.5</tspan></text>
</svg></body></html>
